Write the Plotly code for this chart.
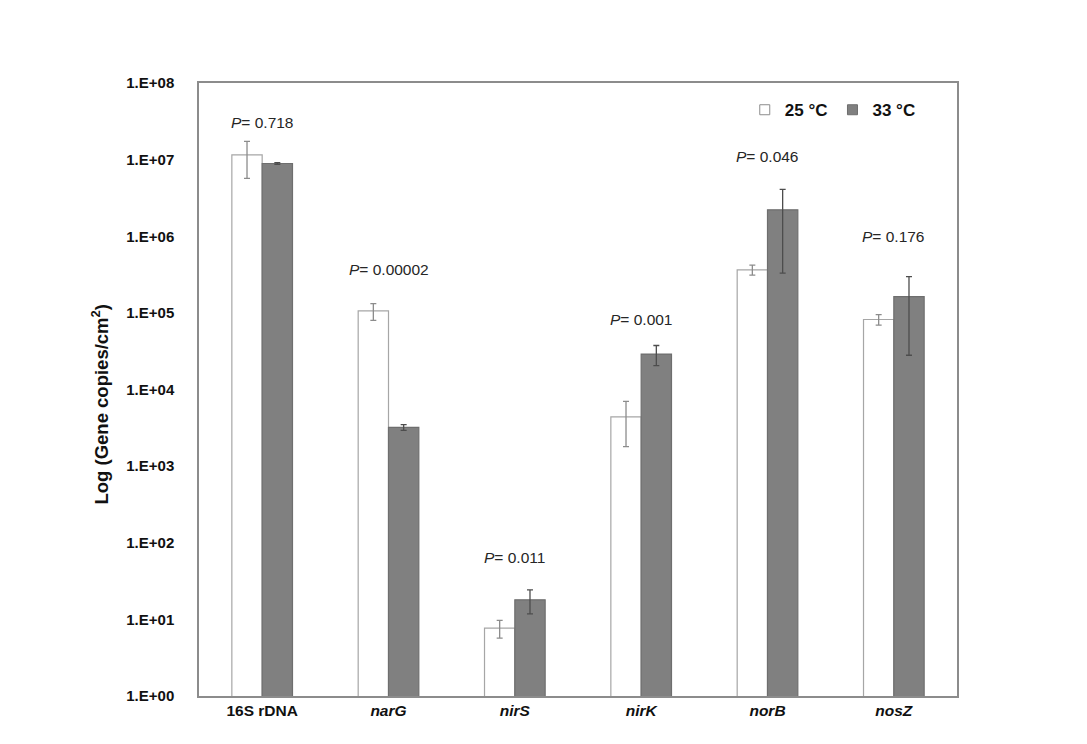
import plotly.graph_objects as go

genes = ["16S rDNA", "narG", "nirS", "nirK", "norB", "nosZ"]
gene_labels = ["<b>16S rDNA</b>", "<b><i>narG</i></b>", "<b><i>nirS</i></b>",
               "<b><i>nirK</i></b>", "<b><i>norB</i></b>", "<b><i>nosZ</i></b>"]
mean_25 = [1.15e7, 1.06e5, 7.7, 4.4e3, 3.65e5, 8.2e4]
sd_25 = [5.8e6, 2.6e4, 2.0, 2.6e3, 5.5e4, 1.3e4]
mean_33 = [8.9e6, 3.2e3, 18.0, 2.9e4, 2.21e6, 1.63e5]
sd_33 = [2.5e5, 2.8e2, 6.2, 8.5e3, 1.88e6, 1.35e5]
p_values = ["0.718", "0.00002", "0.011", "0.001", "0.046", "0.176"]
p_label_log_y = [7.49, 5.57, 1.81, 4.91, 7.04, 6.0]

tick_vals = [1, 10, 100, 1e3, 1e4, 1e5, 1e6, 1e7, 1e8]
tick_text = ["1.E+00", "1.E+01", "1.E+02", "1.E+03", "1.E+04",
             "1.E+05", "1.E+06", "1.E+07", "1.E+08"]

FONT = "Liberation Sans, Arial, sans-serif"
WHITE_EDGE = "#a6a6a6"
DARK_FILL = "#808080"
DARK_EDGE = "#6e6e6e"

fig = go.Figure()
fig.add_trace(go.Bar(
    x=genes, y=mean_25, name="25 °C", showlegend=False,
    marker=dict(color="white", line=dict(color=WHITE_EDGE, width=1.2)),
    error_y=dict(type="data", array=sd_25, visible=True, color="#8c8c8c",
                 thickness=1.3, width=3),
))
fig.add_trace(go.Bar(
    x=genes, y=mean_33, name="33 °C", showlegend=False,
    marker=dict(color=DARK_FILL, line=dict(color=DARK_EDGE, width=1.2)),
    error_y=dict(type="data", array=sd_33, visible=True, color="#4d4d4d",
                 thickness=1.3, width=3),
))
# legend entries with small square symbols
fig.add_trace(go.Scatter(
    x=[None], y=[None], mode="markers", name="<b>25 °C</b>",
    marker=dict(symbol="square", size=10, color="white",
                line=dict(color="#8c8c8c", width=1)),
))
fig.add_trace(go.Scatter(
    x=[None], y=[None], mode="markers", name="<b>33 °C</b>",
    marker=dict(symbol="square", size=10, color=DARK_FILL,
                line=dict(color=DARK_EDGE, width=1)),
))

for g, p, ly in zip(genes, p_values, p_label_log_y):
    fig.add_annotation(x=g, y=ly, xref="x", yref="y", showarrow=False,
                       text=f"<i>P</i>= {p}",
                       font=dict(family=FONT, size=15.5, color="#262626"))

fig.add_annotation(
    text="<b>Log (Gene copies/cm<sup>2</sup>)</b>",
    xref="paper", yref="paper", x=-0.131, y=0.475, textangle=-90,
    xanchor="center", yanchor="middle",
    showarrow=False, font=dict(family=FONT, size=18.5, color="#111"),
)

fig.update_layout(
    width=1087, height=744,
    paper_bgcolor="white", plot_bgcolor="white",
    margin=dict(l=199, r=130, t=83, b=48),
    barmode="group", bargap=0.52, bargroupgap=0,
    font=dict(family=FONT, color="#111"),
    showlegend=True,
    legend=dict(orientation="h", x=0.72, y=0.985, xanchor="left", yanchor="top",
                font=dict(family=FONT, size=17, color="#111"),
                bgcolor="rgba(0,0,0,0)", traceorder="normal"),
    xaxis=dict(tickmode="array", tickvals=genes, ticktext=gene_labels,
               tickfont=dict(family=FONT, size=15.5, color="#111"),
               showline=True, linecolor="#8c8c8c", linewidth=1.5, mirror=True,
               ticks="", showgrid=False),
    yaxis=dict(type="log", range=[0, 8], tickmode="array",
               tickvals=tick_vals, ticktext=[f"<b>{t}</b>" for t in tick_text],
               tickfont=dict(family=FONT, size=15, color="#111"),
               showline=True, linecolor="#8c8c8c", linewidth=1.5, mirror=True,
               ticks="", showgrid=False, zeroline=False,
               ticklabelstandoff=20),
)

fig.write_html("out.html")
